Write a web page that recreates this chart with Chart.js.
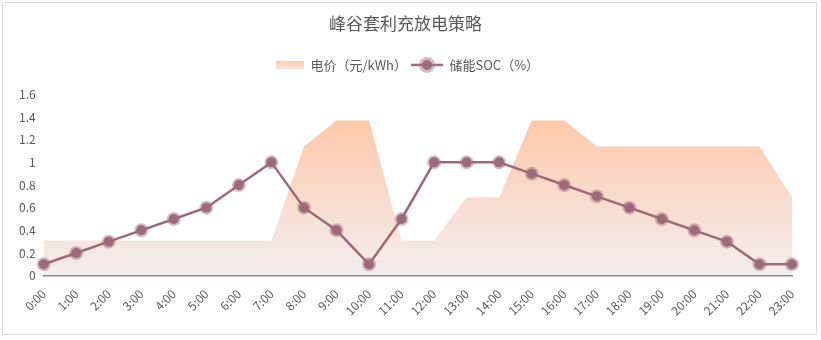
<!DOCTYPE html>
<html lang="zh">
<head>
    <meta charset="UTF-8">
    <script src="https://cdn.jsdelivr.net/npm/chart.js@4.4.1/dist/chart.umd.min.js"></script>
    <title>峰谷套利充放电策略</title>
    <style>
        * { margin: 0; padding: 0; box-sizing: border-box; }
        body { background: #ffffff; width: 821px; height: 340px; overflow: hidden; }
        .frame {
            position: absolute;
            left: 2px;
            top: 2px;
            width: 815px;
            height: 333px;
            border: 1px solid #d9d9d9;
            background: #fff;
        }
        .chart-container { position: relative; width: 813px; height: 331px; }
    </style>
</head>
<body>
    <div class="frame">
        <div class="chart-container">
            <canvas id="socChart"></canvas>
        </div>
    </div>

    <script>
        // data
        const hours = ['0:00','1:00','2:00','3:00','4:00','5:00','6:00','7:00','8:00','9:00','10:00','11:00',
                       '12:00','13:00','14:00','15:00','16:00','17:00','18:00','19:00','20:00','21:00','22:00','23:00'];
        const price = [0.31,0.31,0.31,0.31,0.31,0.31,0.31,0.31,1.14,1.37,1.37,0.31,
                       0.31,0.69,0.69,1.37,1.37,1.14,1.14,1.14,1.14,1.14,1.14,0.69];
        const soc = [0.1,0.2,0.3,0.4,0.5,0.6,0.8,1.0,0.6,0.4,0.1,0.5,
                     1.0,1.0,1.0,0.9,0.8,0.7,0.6,0.5,0.4,0.3,0.1,0.1];
        const yTicks = [0, 0.2, 0.4, 0.6, 0.8, 1, 1.2, 1.4, 1.6];

        const FONT = "'Noto Sans CJK SC', 'Noto Sans', sans-serif";
        const lineColor = '#9e6a7a';
        const haloColor = 'rgba(158,106,122,0.45)';

        // legend icons
        function areaIcon() {
            const c = document.createElement('canvas');
            c.width = 32; c.height = 8;
            const g = c.getContext('2d');
            const grd = g.createLinearGradient(0, 0, 0, 8);
            grd.addColorStop(0, '#fec8aa');
            grd.addColorStop(1, '#f7e6dc');
            g.fillStyle = grd;
            g.fillRect(4, 0, 28, 8);
            return c;
        }
        function lineIcon() {
            const c = document.createElement('canvas');
            c.width = 32; c.height = 18;
            const g = c.getContext('2d');
            g.strokeStyle = lineColor;
            g.lineWidth = 2.5;
            g.beginPath(); g.moveTo(0, 9); g.lineTo(32, 9); g.stroke();
            g.fillStyle = haloColor;
            g.beginPath(); g.arc(16, 9, 8, 0, Math.PI * 2); g.fill();
            g.fillStyle = lineColor;
            g.beginPath(); g.arc(16, 9, 5, 0, Math.PI * 2); g.fill();
            return c;
        }

        // push the plot area a bit further below the legend
        const legendGap = {
            id: 'legendGap',
            beforeInit(chart) {
                const fit = chart.legend.fit;
                chart.legend.fit = function () {
                    fit.bind(chart.legend)();
                    this.height += 13;
                };
            }
        };

        const ctx = document.getElementById('socChart');
        new Chart(ctx, {
            type: 'line',
            plugins: [legendGap],
            data: {
                labels: hours,
                datasets: [
                    {
                        label: '电价（元/kWh）',
                        data: price,
                        fill: 'origin',
                        borderWidth: 0,
                        pointRadius: 0,
                        tension: 0,
                        order: 2,
                        backgroundColor: function (context) {
                            const chart = context.chart;
                            const area = chart.chartArea;
                            if (!area) return '#fec8aa';
                            const top = chart.scales.y.getPixelForValue(1.37);
                            const grd = chart.ctx.createLinearGradient(0, top, 0, area.bottom);
                            grd.addColorStop(0, '#fec8aa');
                            grd.addColorStop(1, '#f2eeee');
                            return grd;
                        }
                    },
                    {
                        label: '储能SOC（%）',
                        data: soc,
                        borderColor: lineColor,
                        borderWidth: 2.5,
                        backgroundColor: lineColor,
                        pointRadius: 5,
                        pointBorderWidth: 4,
                        pointBorderColor: haloColor,
                        pointBackgroundColor: lineColor,
                        pointHoverRadius: 5,
                        fill: false,
                        tension: 0,
                        order: 1
                    }
                ]
            },
            options: {
                responsive: true,
                maintainAspectRatio: false,
                animation: false,
                layout: {
                    padding: { left: 16, right: 24, top: 8, bottom: 13 }
                },
                plugins: {
                    title: {
                        display: true,
                        text: '峰谷套利充放电策略',
                        color: '#595959',
                        font: { family: FONT, size: 17, weight: 'normal' },
                        padding: { top: 2, bottom: 21 }
                    },
                    legend: {
                        position: 'top',
                        labels: {
                            color: '#595959',
                            font: { family: FONT, size: 13 },
                            usePointStyle: true,
                            pointStyleWidth: 32,
                            padding: 4,
                            generateLabels: function (chart) {
                                const icons = [areaIcon(), lineIcon()];
                                return chart.data.datasets.map((ds, i) => ({
                                    text: ds.label,
                                    pointStyle: icons[i],
                                    datasetIndex: i,
                                    hidden: false,
                                    fontColor: '#595959'
                                }));
                            }
                        }
                    },
                    tooltip: { enabled: false }
                },
                scales: {
                    x: {
                        grid: { display: false },
                        border: { display: true, color: '#7f7f7f', width: 1.5 },
                        ticks: {
                            color: '#595959',
                            font: { family: FONT, size: 12 },
                            minRotation: 45,
                            maxRotation: 45,
                            autoSkip: false
                        }
                    },
                    y: {
                        min: 0,
                        max: 1.6,
                        grid: { display: false },
                        border: { display: false },
                        afterBuildTicks: function (axis) {
                            axis.ticks = yTicks.map(v => ({ value: v }));
                        },
                        ticks: {
                            color: '#595959',
                            font: { family: FONT, size: 12 },
                            padding: 0,
                            callback: function (v) { return String(Math.round(v * 10) / 10); }
                        }
                    }
                }
            }
        });
    </script>
</body>
</html>
